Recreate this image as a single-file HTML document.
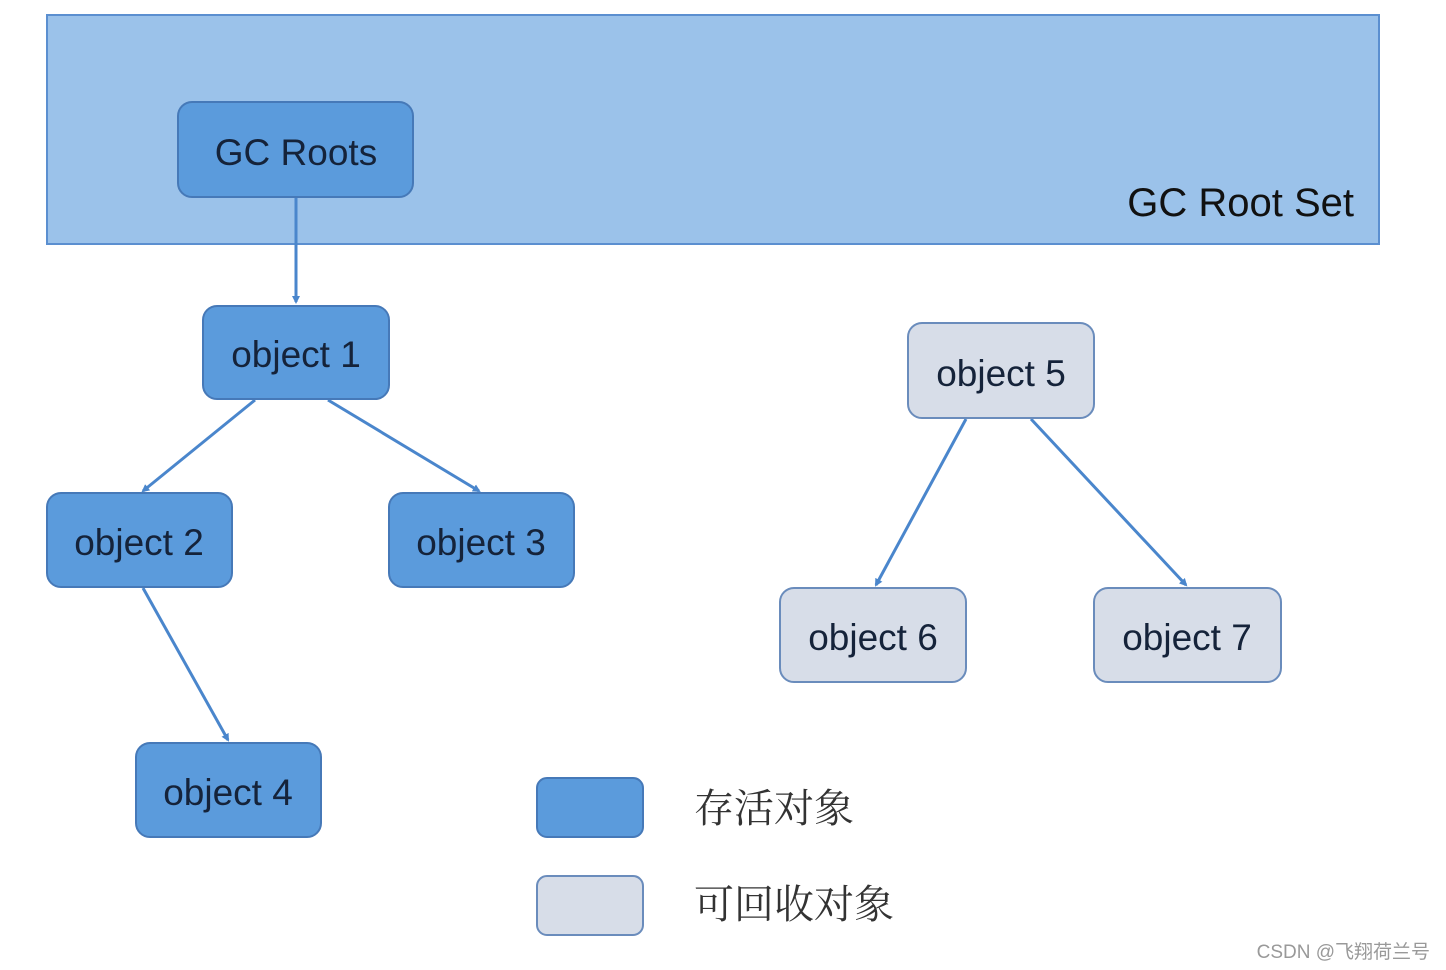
<!DOCTYPE html>
<html><head><meta charset="utf-8"><style>
html,body{margin:0;padding:0;background:#fff;}
svg{display:block}
text{font-family:"Liberation Sans","Noto Sans CJK SC",sans-serif;}
</style></head><body>
<svg width="1446" height="970" viewBox="0 0 1446 970" xmlns="http://www.w3.org/2000/svg">
<defs>
<marker id="a" markerWidth="8" markerHeight="8" refX="6" refY="4" orient="auto" markerUnits="userSpaceOnUse">
<path d="M0,0 L8,4 L0,8 z" fill="#4a86cc"/></marker>
</defs>
<rect x="47" y="15" width="1332" height="229" fill="#9bc2ea" stroke="#5b8fd0" stroke-width="2"/>
<text x="1354" y="216" font-size="40" text-anchor="end" fill="#111">GC Root Set</text>
<g stroke="#4a86cc" stroke-width="3" fill="none" marker-end="url(#a)">
<line x1="296" y1="197" x2="296" y2="302"/>
<line x1="255" y1="400" x2="143" y2="491"/>
<line x1="328" y1="400" x2="479" y2="491"/>
<line x1="143" y1="588" x2="228" y2="740"/>
<line x1="966" y1="419" x2="876" y2="585"/>
<line x1="1031" y1="419" x2="1186" y2="585"/>
</g>
<g stroke="#4679b8" stroke-width="2" fill="#5b9bdc">
<rect x="178" y="102" width="235" height="95" rx="14"/>
<rect x="203" y="306" width="186" height="93" rx="14"/>
<rect x="47" y="493" width="185" height="94" rx="14"/>
<rect x="389" y="493" width="185" height="94" rx="14"/>
<rect x="136" y="743" width="185" height="94" rx="14"/>
<rect x="537" y="778" width="106" height="59" rx="10"/>
</g>
<g stroke="#6a8cbc" stroke-width="2" fill="#d7dde8">
<rect x="908" y="323" width="186" height="95" rx="14"/>
<rect x="780" y="588" width="186" height="94" rx="14"/>
<rect x="1094" y="588" width="187" height="94" rx="14"/>
<rect x="537" y="876" width="106" height="59" rx="10"/>
</g>
<g font-size="37" fill="#15233a" text-anchor="middle">
<text x="296" y="165">GC Roots</text>
<text x="296" y="367">object 1</text>
<text x="139" y="555">object 2</text>
<text x="481" y="555">object 3</text>
<text x="228" y="805">object 4</text>
<text x="1001" y="386">object 5</text>
<text x="873" y="650">object 6</text>
<text x="1187" y="650">object 7</text>
</g>
<text x="694" y="822" font-size="40" fill="#333" style='font-family:"Noto Serif CJK SC",serif'>存活对象</text>
<text x="694" y="918" font-size="40" fill="#333" style='font-family:"Noto Serif CJK SC",serif'>可回收对象</text>
<text x="1430" y="958" font-size="19" fill="#999" text-anchor="end">CSDN @飞翔荷兰号</text>
</svg>
</body></html>
